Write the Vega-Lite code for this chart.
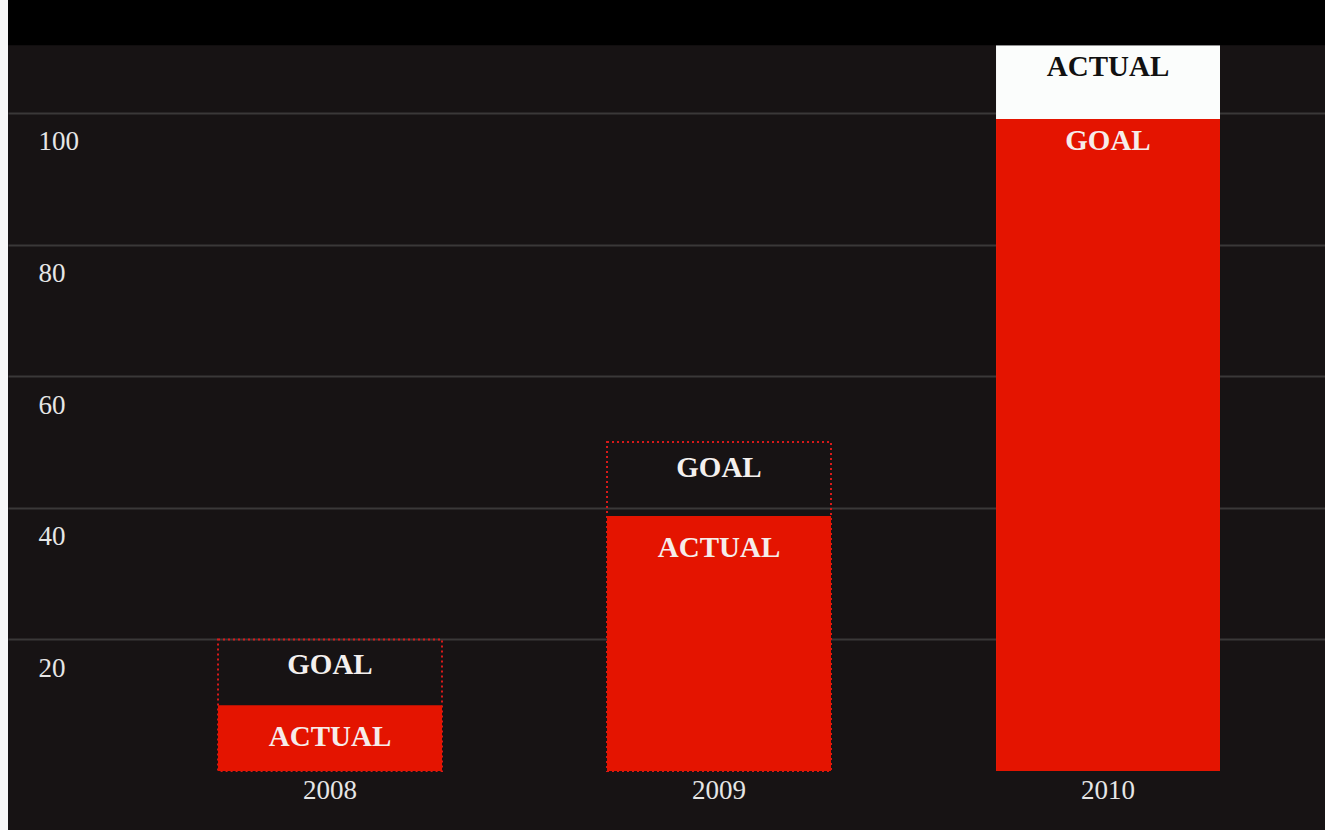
{
  "$schema": "https://vega.github.io/schema/vega-lite/v6.json",
  "width": 1317,
  "height": 830,
  "autosize": {"type": "none"},
  "padding": {"left": 8, "top": 0, "right": 0, "bottom": 0},
  "background": "#f7f7f7",
  "data": {
    "values": [
      {"year": "2008", "measure": "GOAL", "value": 20, "outcome": "short"},
      {"year": "2008", "measure": "ACTUAL", "value": 10, "outcome": "short"},
      {"year": "2009", "measure": "GOAL", "value": 50, "outcome": "short"},
      {"year": "2009", "measure": "ACTUAL", "value": 38.75, "outcome": "short"},
      {"year": "2010", "measure": "GOAL", "value": 99.1, "outcome": "exceeded"},
      {"year": "2010", "measure": "ACTUAL", "value": 110.3, "outcome": "exceeded"}
    ]
  },
  "encoding": {
    "x": {
      "field": "year",
      "type": "nominal",
      "scale": {"paddingInner": 0.4242, "paddingOuter": 0.4049, "align": 0.6667},
      "axis": {
        "title": null,
        "orient": "bottom",
        "labelAngle": 0,
        "labelPadding": -40,
        "labelBaseline": "middle",
        "labelFont": "Liberation Serif",
        "labelFontSize": 27,
        "labelColor": "#e6e6e6",
        "domain": false,
        "ticks": false
      }
    },
    "y": {
      "field": "value",
      "type": "quantitative",
      "scale": {"domain": [-8.97, 117.17], "nice": false, "zero": false},
      "axis": {
        "title": null,
        "values": [20, 40, 60, 80, 100],
        "grid": true,
        "gridColor": "#3a3838",
        "gridWidth": 2,
        "domain": false,
        "ticks": false,
        "labelAlign": "left",
        "labelPadding": -30,
        "labelOffset": 29,
        "labelBaseline": "middle",
        "labelFont": "Liberation Serif",
        "labelFontSize": 27,
        "labelColor": "#e6e6e6"
      }
    }
  },
  "layer": [
    {
      "transform": [{"filter": "datum.measure == 'GOAL' && datum.outcome == 'short'"}],
      "mark": {"type": "bar", "fill": "transparent", "stroke": "#d81a1a", "strokeWidth": 2, "strokeDash": [2, 3]},
      "encoding": {"y2": {"datum": 0}}
    },
    {
      "transform": [{"filter": "datum.measure == 'ACTUAL' && datum.outcome == 'exceeded'"}],
      "mark": {"type": "bar", "color": "#fbfdfc"},
      "encoding": {"y2": {"datum": 0}}
    },
    {
      "transform": [{"filter": "(datum.measure == 'ACTUAL' && datum.outcome == 'short') || (datum.measure == 'GOAL' && datum.outcome == 'exceeded')"}],
      "mark": {"type": "bar", "color": "#e41400"},
      "encoding": {"y2": {"datum": 0}}
    },
    {
      "transform": [{"filter": "datum.measure == 'GOAL' && datum.outcome == 'short'"}],
      "mark": {"type": "text", "dy": 26, "baseline": "middle", "font": "Liberation Serif", "fontWeight": "bold", "fontSize": 29, "color": "#f4f0ee"},
      "encoding": {"text": {"field": "measure"}}
    },
    {
      "transform": [{"filter": "datum.measure == 'ACTUAL' && datum.outcome == 'short'"}],
      "mark": {"type": "text", "dy": 32, "baseline": "middle", "font": "Liberation Serif", "fontWeight": "bold", "fontSize": 29, "color": "#f6ecea"},
      "encoding": {"text": {"field": "measure"}}
    },
    {
      "transform": [{"filter": "datum.outcome == 'exceeded'"}],
      "mark": {"type": "text", "dy": 22, "baseline": "middle", "font": "Liberation Serif", "fontWeight": "bold", "fontSize": 29},
      "encoding": {
        "text": {"field": "measure"},
        "color": {
          "condition": {"test": "datum.measure == 'ACTUAL'", "value": "#111111"},
          "value": "#f6ecea"
        }
      }
    },
    {
      "transform": [{"filter": "datum.measure == 'ACTUAL' && datum.outcome == 'exceeded'"}],
      "mark": {"type": "rect", "fill": "#000000"},
      "encoding": {
        "x": {"value": 0},
        "x2": {"value": "width"},
        "y": {"datum": 117.17},
        "y2": {"datum": 110.3}
      }
    }
  ],
  "config": {
    "view": {"fill": "#171314", "stroke": null}
  }
}
